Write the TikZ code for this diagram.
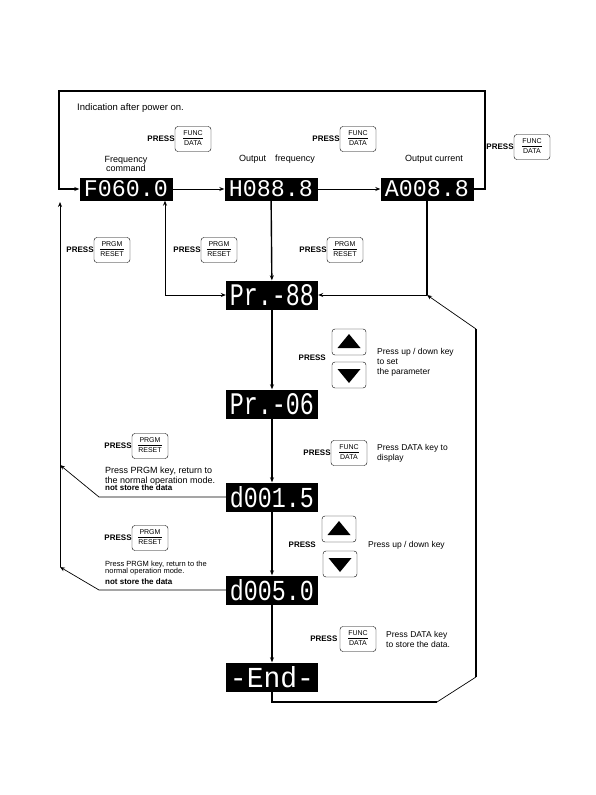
\documentclass[tikz,border=0pt]{standalone}
\usepackage{fontspec}
\setmainfont{Liberation Sans}
\newfontfamily\segfont{Liberation Mono}
\usepackage{graphicx}
\usetikzlibrary{arrows.meta}

\newcommand\keylbl[2]{\begin{tabular}{@{}c@{}}#1\\[0.5pt]\hline\rule{0pt}{7.5pt}#2\end{tabular}}
\newcommand\segtop[1]{\resizebox{84pt}{16pt}{\segfont #1}}
\newcommand\seglow[1]{\resizebox{84pt}{21pt}{\segfont #1}}

\tikzset{
  disp/.style={fill=black,text=white,inner sep=0pt,minimum width=93pt,minimum height=23pt},
  dispb/.style={disp,minimum width=92pt,minimum height=29pt},
  keybox/.style={draw,rounded corners=3pt,inner xsep=2.5pt,inner ysep=0pt,minimum width=36pt,minimum height=25pt,font=\fontsize{7}{7}\selectfont},
  arrkey/.style={draw,rounded corners=3pt,minimum width=34pt,minimum height=26pt},
  press/.style={anchor=east,inner sep=0pt,font=\bfseries\fontsize{8}{9}\selectfont},
  note/.style={anchor=west,inner sep=0pt,align=left,font=\fontsize{8.5}{10}\selectfont},
  flow/.style={line width=1.4pt},
  link/.style={line width=0.7pt},
  arw/.style={-{Stealth[length=5pt,width=4pt]}},
}

\begin{document}
\begin{tikzpicture}[x=1pt,y=-1pt]
  \useasboundingbox (0,0) rectangle (596,795);
  % displays
  \node[disp] (F) at (126,189) {\segtop{F060.0}};
  \node[disp] (H) at (271,189) {\segtop{H088.8}};
  \node[disp] (A) at (427,189) {\segtop{A008.8}};
  \node[dispb] (P88) at (272,295) {\seglow{Pr.-88}};
  \node[dispb] (P06) at (272,404) {\seglow{Pr.-06}};
  \node[dispb] (d15) at (272,497) {\seglow{d001.5}};
  \node[dispb] (d50) at (272,590) {\seglow{d005.0}};
  \node[dispb] (End) at (272,677) {\seglow{-End-}};

  % corners
  \coordinate (tr) at (485,91);
  \coordinate (tl) at (59,91);
  \coordinate (fl) at (165,295);
  \coordinate (ar) at (427,295);
  \coordinate (lt) at (60,202);
  \coordinate (l1) at (60,465);
  \coordinate (lb) at (60,567);
  \coordinate (b1) at (99,499);
  \coordinate (r1) at (437,702);
  \coordinate (r2) at (476,677);
  \coordinate (r3) at (476,329);

  % top row
  \node[note,font=\fontsize{9.5}{11}\selectfont] (ind) at (77,108) {Indication after power on.};
  \node[keybox] (k1) at (193,139) {\keylbl{FUNC}{DATA}};
  \node[press] at (k1.west) {PRESS~};
  \node[keybox] (k2) at (358,139) {\keylbl{FUNC}{DATA}};
  \node[press] at (k2.west) {PRESS~};
  \node[keybox] (k3) at (532,147) {\keylbl{FUNC}{DATA}};
  \node[press] at (k3.west) {PRESS};
  \node[align=center,inner sep=0pt,font=\fontsize{9}{8.5}\selectfont] (fc) at (126,164) {Frequency\\command};
  \node[inner sep=0pt,font=\fontsize{9}{10}\selectfont] (of) at (277,159) {Output\quad frequency};
  \node[inner sep=0pt,font=\fontsize{9}{10}\selectfont] (oc) at (434,159) {Output current};

  % PRGM row
  \node[keybox] (p1) at (112,250) {\keylbl{PRGM}{RESET}};
  \node[press] at (p1.west) {PRESS~};
  \node[keybox] (p2) at (219,250) {\keylbl{PRGM}{RESET}};
  \node[press] at (p2.west) {PRESS~};
  \node[keybox] (p3) at (345,250) {\keylbl{PRGM}{RESET}};
  \node[press] at (p3.west) {PRESS~};

  % parameter select
  \node[arrkey] (up1) at (349,342) {};
  \node[arrkey] (dn1) at (349,375) {};
  \node[press] at (326,358) {PRESS};
  \node[note] (n1) at (377,362) {Press up / down key\\to set\\the parameter};
  \node[keybox] (k4) at (349,453) {\keylbl{FUNC}{DATA}};
  \node[press] at (k4.west) {PRESS};
  \node[note] (n2) at (377,453) {Press DATA key to\\display};

  % data edit
  \node[keybox] (p4) at (150,446) {\keylbl{PRGM}{RESET}};
  \node[press] at (p4.west) {PRESS};
  \node[note,font=\fontsize{9}{10}\selectfont] (n3) at (105,476) {Press PRGM key, return to\\the normal operation mode.};
  \node[note,font=\bfseries\fontsize{8}{9}\selectfont] at (105,488) {not store the data};
  \node[arrkey] (up2) at (339,529) {};
  \node[arrkey] (dn2) at (340,564) {};
  \node[press] at (316,545) {PRESS};
  \node[note] (n4) at (368,545) {Press up / down key};
  \node[keybox] (p5) at (150,538) {\keylbl{PRGM}{RESET}};
  \node[press] at (p5.west) {PRESS~};
  \node[note,font=\fontsize{7.5}{7.5}\selectfont] (n5) at (105,568) {Press PRGM key, return to the\\normal operation mode.};
  \node[note,font=\bfseries\fontsize{8}{9}\selectfont] at (105,582) {not store the data};
  \node[keybox] (k5) at (358,639) {\keylbl{FUNC}{DATA}};
  \node[press] at (k5.west) {PRESS~~};
  \node[note] (n6) at (386,639) {Press DATA key\\to store the data.};

  \foreach \k/\s in {up1/1,dn1/-1,up2/1,dn2/-1}
    \fill ([shift={(-11.5,6*\s)}]\k.center) -- ([shift={(11.5,6*\s)}]\k.center) -- ([shift={(0,-8*\s)}]\k.center) -- cycle;

  % connectors
  \draw[flow,arw] (A.east) -- (A.east -| tr) -- (tr) -- (tl) -- (tl |- F) -- (F.west);
  \draw[link,arw] (F) -- (H);
  \draw[link,arw] (H) -- (A);
  \draw[flow,arw] (H) -- (P88);
  \draw[link,{Stealth[length=5pt,width=4pt]}-{Stealth[length=5pt,width=4pt]}] (F.south -| fl) -- (fl) -- (P88.west);
  \draw[flow] (A) -- (ar);
  \draw[link,arw] (ar) -- (P88);
  \foreach \a/\b in {P88/P06,P06/d15,d15/d50,d50/End}
    \draw[flow,arw] (\a) -- (\b);
  \draw[link,arw] (lb) -- (lt);
  \draw[link,arw] (d15.west) -- (d15.west -| b1) -- (l1);
  \draw[link,arw] (d50.west) -- (d50.west -| b1) -- (lb);
  \draw[flow] (End) -- (End |- r1) -- (r1);
  \draw[link] (r1) -- (r2);
  \draw[flow] (r2) -- (r3);
  \draw[link,arw] (r3) -- (ar);
\end{tikzpicture}
\end{document}
